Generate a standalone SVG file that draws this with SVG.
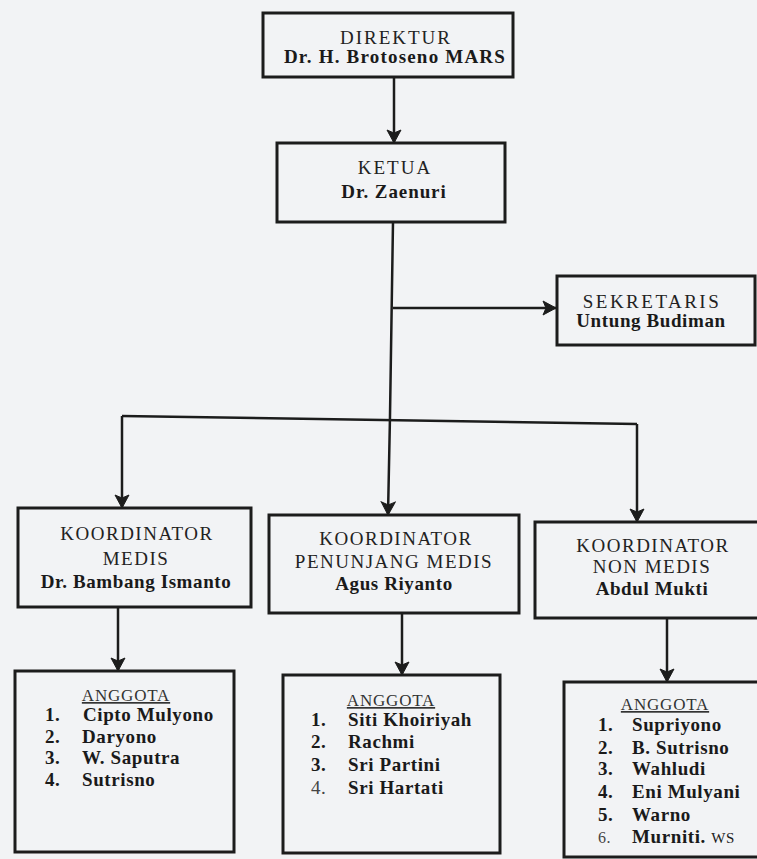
<svg xmlns="http://www.w3.org/2000/svg" width="757" height="859" viewBox="0 0 757 859" font-family="'Liberation Serif', 'Times New Roman', 'DejaVu Serif', serif">
<defs>
<style>
.box{fill:none;stroke:#1c1c1c;stroke-width:3}
.con{fill:none;stroke:#1c1c1c;stroke-width:2.5}
.t{font-size:19px;fill:#222;text-anchor:middle;letter-spacing:1.5px}
.n{font-size:19px;font-weight:bold;fill:#1a1a1a;text-anchor:middle;letter-spacing:0.6px}
.a{font-size:17px;fill:#333;text-anchor:middle;letter-spacing:0.8px;text-decoration:underline}
.i{font-size:19px;font-weight:bold;fill:#1a1a1a;letter-spacing:0.6px}
.l{font-weight:normal;fill:#444}
</style>
<marker id="ah" viewBox="-14 -8 15 16" refX="0" refY="0" markerWidth="15" markerHeight="16" markerUnits="userSpaceOnUse" orient="auto">
<path d="M0,0 L-13,-7 L-10,0 L-13,7 Z" fill="#1c1c1c" stroke="#1c1c1c" stroke-width="1"/>
</marker>
</defs>
<rect width="757" height="859" fill="#f2f3f5"/>

<g id="connectors">
<path class="con" d="M394,77 L394,143" marker-end="url(#ah)"/>
<path class="con" d="M393,222 L390,416 L388,515" marker-end="url(#ah)"/>
<path class="con" d="M393,308 L556,308" marker-end="url(#ah)"/>
<path class="con" d="M122,416 L637,424"/>
<path class="con" d="M122,416 L122,508" marker-end="url(#ah)"/>
<path class="con" d="M637,424 L637,522" marker-end="url(#ah)"/>
<path class="con" d="M118,607 L118,671" marker-end="url(#ah)"/>
<path class="con" d="M402,613 L402,675" marker-end="url(#ah)"/>
<path class="con" d="M667,618 L667,682" marker-end="url(#ah)"/>
</g>

<g id="direktur">
<rect class="box" x="263" y="13" width="250" height="64"/>
<text class="t" x="396" y="44" style="letter-spacing:2px">DIREKTUR</text>
<text class="n" x="395" y="63" style="letter-spacing:1.2px">Dr. H. Brotoseno MARS</text>
</g>

<g id="ketua">
<rect class="box" x="277" y="143" width="228" height="79"/>
<text class="t" x="395" y="174" style="letter-spacing:2px">KETUA</text>
<text class="n" x="394" y="198" style="letter-spacing:0.9px">Dr. Zaenuri</text>
</g>

<g id="sekretaris">
<rect class="box" x="557" y="276" width="198" height="69"/>
<text class="t" x="652" y="308" style="letter-spacing:2.5px">SEKRETARIS</text>
<text class="n" x="651" y="327">Untung Budiman</text>
</g>

<g id="koord-medis">
<rect class="box" x="18" y="508" width="233" height="99"/>
<text class="t" x="137" y="540">KOORDINATOR</text>
<text class="t" x="136" y="565">MEDIS</text>
<text class="n" x="136" y="588">Dr. Bambang Ismanto</text>
</g>

<g id="koord-penunjang">
<rect class="box" x="269" y="515" width="250" height="98"/>
<text class="t" x="396" y="545">KOORDINATOR</text>
<text class="t" x="394" y="568">PENUNJANG MEDIS</text>
<text class="n" x="394" y="590">Agus Riyanto</text>
</g>

<g id="koord-nonmedis">
<rect class="box" x="535" y="522" width="235" height="96"/>
<text class="t" x="653" y="552">KOORDINATOR</text>
<text class="t" x="652" y="573">NON MEDIS</text>
<text class="n" x="652" y="595">Abdul Mukti</text>
</g>

<g id="anggota-medis">
<rect class="box" x="15" y="671" width="219" height="181"/>
<text class="a" x="126" y="701">ANGGOTA</text>
<text class="i" x="45" y="721">1.</text><text class="i" x="83" y="721">Cipto Mulyono</text>
<text class="i" x="45" y="743">2.</text><text class="i" x="82" y="743">Daryono</text>
<text class="i" x="45" y="764">3.</text><text class="i" x="82" y="764">W. Saputra</text>
<text class="i" x="45" y="786">4.</text><text class="i" x="82" y="786">Sutrisno</text>
</g>

<g id="anggota-penunjang">
<rect class="box" x="283" y="675" width="217" height="178"/>
<text class="a" x="391" y="706">ANGGOTA</text>
<text class="i" x="311" y="726">1.</text><text class="i" x="348" y="726">Siti Khoiriyah</text>
<text class="i" x="311" y="748">2.</text><text class="i" x="348" y="748">Rachmi</text>
<text class="i" x="311" y="771">3.</text><text class="i" x="348" y="771">Sri Partini</text>
<text class="i l" x="311" y="794">4.</text><text class="i" x="348" y="794">Sri Hartati</text>
</g>

<g id="anggota-nonmedis">
<rect class="box" x="564" y="682" width="206" height="175"/>
<text class="a" x="665" y="710">ANGGOTA</text>
<text class="i" x="598" y="731">1.</text><text class="i" x="632" y="731">Supriyono</text>
<text class="i" x="598" y="754">2.</text><text class="i" x="632" y="754">B. Sutrisno</text>
<text class="i" x="598" y="775">3.</text><text class="i" x="632" y="775">Wahludi</text>
<text class="i" x="598" y="798">4.</text><text class="i" x="632" y="798">Eni Mulyani</text>
<text class="i" x="598" y="821">5.</text><text class="i" x="632" y="821">Warno</text>
<text class="i l" x="598" y="843" style="font-size:16px">6.</text><text class="i" x="632" y="843">Murniti. <tspan style="font-weight:normal;font-size:15px">WS</tspan></text>
</g>
</svg>
